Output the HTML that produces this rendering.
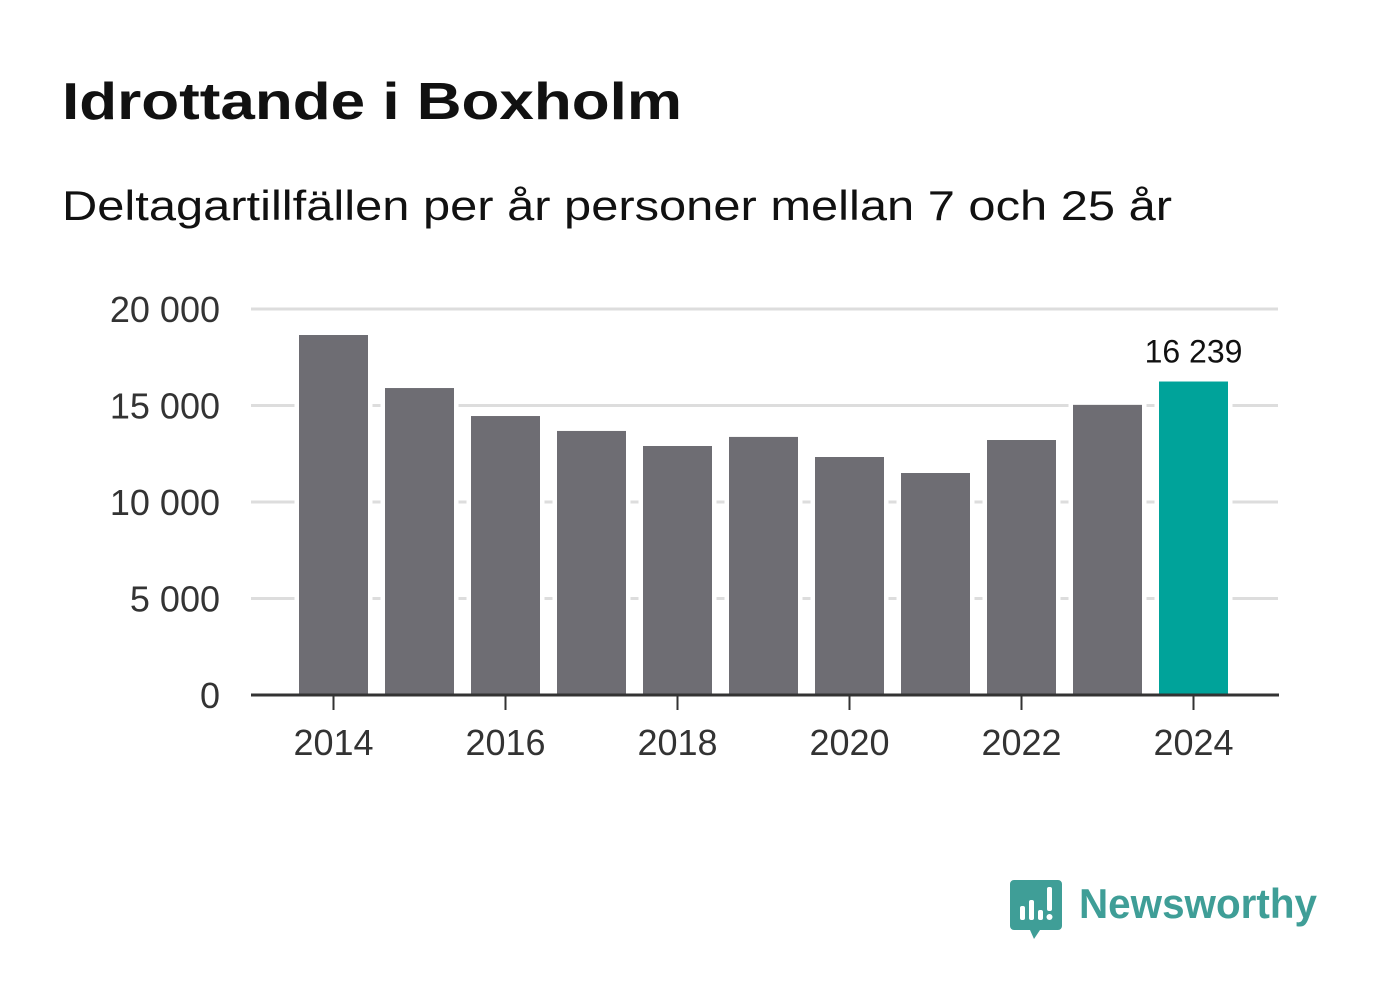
<!DOCTYPE html>
<html><head><meta charset="utf-8"><style>
html,body{margin:0;padding:0;background:#fff;}
svg{display:block;font-family:"Liberation Sans",sans-serif;}
</style></head><body>
<svg id="c" width="1382" height="999" viewBox="0 0 1382 999">
<text x="62" y="119" font-size="52" font-weight="bold" fill="#111" textLength="620" lengthAdjust="spacingAndGlyphs">Idrottande i Boxholm</text>
<text x="62" y="220" font-size="42" fill="#111" textLength="1110" lengthAdjust="spacingAndGlyphs">Deltagartillfällen per år personer mellan 7 och 25 år</text>
<g id="grid"></g><g id="bars"></g><g id="axes"></g>
<g>
<path d="M1014 880 h44 a4 4 0 0 1 4 4 v42 a4 4 0 0 1 -4 4 h-18 l-6 9 l-4 -9 h-16 a4 4 0 0 1 -4 -4 v-42 a4 4 0 0 1 4 -4z" fill="#3f9e97"/>
<rect x="1020" y="906" width="5" height="14" rx="2" fill="#fff"/>
<rect x="1029" y="900" width="5" height="20" rx="2" fill="#fff"/>
<rect x="1038" y="910" width="5" height="10" rx="2" fill="#fff"/>
<rect x="1047" y="887" width="5" height="24" rx="2" fill="#fff"/>
<circle cx="1049.5" cy="917" r="3" fill="#fff"/>
<text x="1079" y="918" font-size="42" font-weight="bold" fill="#3f9e97" textLength="238" lengthAdjust="spacingAndGlyphs">Newsworthy</text>
</g>
</svg>
<script>
const years=[2014,2015,2016,2017,2018,2019,2020,2021,2022,2023,2024];
const values=[18650,15900,14450,13680,12900,13370,12330,11500,13210,15030,16239];
const yTicks=[0,5000,10000,15000,20000];
const yTickLabels=["0","5 000","10 000","15 000","20 000"];
const xTickYears=[2014,2016,2018,2020,2022,2024];
const highlightLabel="16 239";
const NS="http://www.w3.org/2000/svg";
const y=v=>695-v*386/20000;
const x=yr=>333.5+(yr-2014)*86;
function mk(t,a,p){const e=document.createElementNS(NS,t);for(const k in a)e.setAttribute(k,a[k]);p.appendChild(e);return e;}
const G=document.getElementById('grid'),B=document.getElementById('bars'),A=document.getElementById('axes');
yTicks.forEach((t,i)=>{
  if(t>0){const l=mk('line',{x1:251,x2:1278,y1:y(t),y2:y(t),stroke:'#ddd','stroke-width':3},G);
  
  }
  const tx=mk('text',{x:220,y:y(t)+13,'font-size':36,fill:'#333','text-anchor':'end'},A);tx.textContent=yTickLabels[i];
  
  
});
years.forEach((yr,i)=>{
  const last=i===years.length-1;
  const r=mk('rect',{x:x(yr)-34.5,y:y(values[i]),width:69,height:695-y(values[i]),fill:last?'#00a39a':'#6e6d73',stroke:'#fff','stroke-width':9,'paint-order':'stroke'},B);
  
  
  const r2=mk('rect',{x:x(yr)-34.5,y:y(values[i]),width:69,height:695-y(values[i]),fill:last?'#00a39a':'#6e6d73'},B);
  
  
  if(last){const t=mk('text',{x:x(yr),y:y(values[i])-19,'font-size':32,fill:'#111','text-anchor':'middle'},B);t.textContent=highlightLabel;
  
  }
});
const ax=mk('line',{x1:251,x2:1279,y1:695,y2:695,stroke:'#333','stroke-width':3},A);


xTickYears.forEach(yr=>{
  const tk=mk('line',{x1:x(yr),x2:x(yr),y1:695,y2:710,stroke:'#333','stroke-width':2},A);
  
  
  const t=mk('text',{x:x(yr),y:755,'font-size':36,fill:'#333','text-anchor':'middle'},A);t.textContent=yr;
  
  
});
</script>
</body></html>
